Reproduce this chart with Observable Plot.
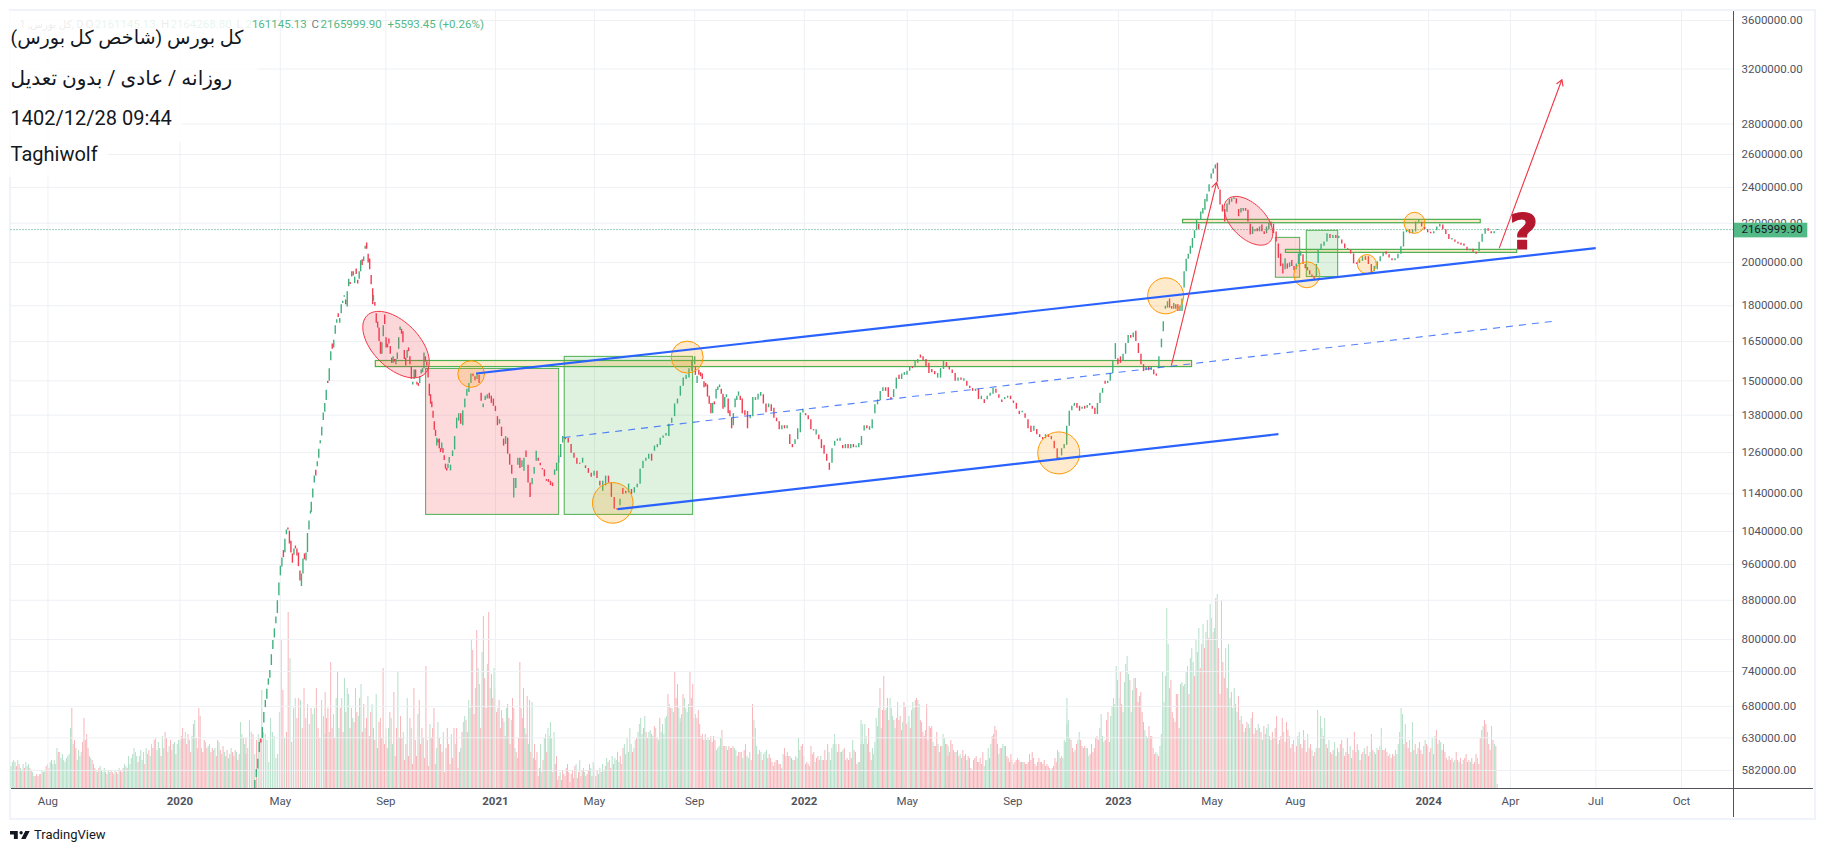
<!DOCTYPE html>
<html><head><meta charset="utf-8">
<script src="https://cdn.jsdelivr.net/npm/d3@7"></script>
<script src="https://cdn.jsdelivr.net/npm/@observablehq/plot@0.6"></script>
<style>
html,body{margin:0;padding:0;background:#fff;}
#chart{position:relative;width:1823px;height:852px;overflow:hidden;font-family:Roboto,"DejaVu Sans",sans-serif;}
#chart svg.layer{position:absolute;left:0;top:0;}
#frame{position:absolute;left:9px;top:9px;width:1803px;height:807px;border:2px solid #f0f3fa;box-sizing:content-box;}
#axisV{position:absolute;left:1733px;top:11px;width:1px;height:806px;background:#50535e;z-index:3;}
#axisH{position:absolute;left:11px;top:788px;width:1802px;height:1px;background:#50535e;z-index:3;}
#brand{position:absolute;left:10px;top:827px;display:flex;align-items:center;gap:4px;font-size:13px;color:#131722;}
</style></head><body>
<div id="chart"><div id="frame"></div><div id="axisV"></div><div id="axisH"></div>
<div id="brand"><svg width="20" height="10" viewBox="0 6 36 14"><path d="M14 6H0v6h7v8h7V6Z M28 20h-8l7.5-14h8L28 20Z" fill="#131722"/><circle cx="20" cy="9" r="3" fill="#131722"/></svg><span>TradingView</span></div>
</div>
<script>
// Price candles, [open, close] in thousands, one list per stretch of the chart
const rallyA=[[556,568],[572,583],[584,598],[608,623],[628,622],[629,646],[653,670],[678,690],[692,709],[716,727],[728,742],[751,771],[781,798],[803,821],[831,845],[852,879],[890,918],[934,956],[954,975],[993,976],[988,1021],[1032,1044],[1049,1044],[1041,1009],[1016,987],[985,963],[982,997],[1004,997],[997,980],[987,955],[945,922],[910,938],[938,973],[985,971],[968,987],[988,1035],[1044,1067],[1085,1093]];
const rallyB=[[1090,1117],[1128,1153],[1170,1190],[1207,1190],[1217,1232],[1243,1270],[1287,1297],[1312,1340],[1362,1387],[1390,1420],[1430,1466],[1498,1490],[1498,1545],[1575,1610],[1640,1620],[1625,1655],[1680,1715],[1725,1740],[1765,1750],[1725,1745],[1765,1805],[1810,1820],[1838,1845],[1825,1805],[1795,1863],[1885,1920],[1905,1896],[1930,1955],[1955,1935],[1900,1930],[1968,1942],[1915,1898],[1920,1955],[1955,2008],[2013,1985],[2005,2027],[2065,2080],[2097,2065],[2040,1997],[2017,1965],[1938,1895],[1876,1805]];
const fallA=[[1820,1845],[1815,1798],[1765,1725],[1730,1705],[1705,1650],[1648,1600],[1600,1645],[1670,1715],[1760,1720],[1665,1625],[1640,1625],[1660,1640],[1630,1600],[1585,1565],[1565,1590],[1580,1570],[1560,1580],[1580,1605],[1620,1665],[1695,1710],[1700,1680],[1690,1645],[1615,1580],[1585,1555],[1585,1615],[1625,1610],[1590,1560],[1550,1505],[1485,1495],[1505,1540],[1540,1510],[1495,1485],[1490,1480],[1490,1515],[1525,1540],[1530,1545],[1545,1605],[1590,1570],[1570,1555]];
const fallB=[[1545,1510],[1488,1445],[1450,1417],[1425,1405],[1393,1370],[1358,1330],[1330,1310],[1280,1305],[1300,1290],[1302,1272],[1272,1260],[1268,1290],[1272,1258],[1250,1236],[1225,1210],[1212,1205],[1212,1225],[1228,1245]];
const pinkBox=[[1205,1222],[1248,1265],[1268,1310],[1335,1370],[1360,1385],[1385,1350],[1345,1395],[1405,1435],[1445,1470],[1458,1490],[1490,1525],[1525,1515],[1515,1500],[1505,1525],[1520,1490],[1455,1427],[1405,1418],[1430,1445],[1435,1450],[1455,1435],[1445,1420],[1435,1410],[1410,1392],[1375,1345],[1350,1365],[1340,1310],[1302,1280],[1285,1310],[1305,1255],[1255,1222],[1222,1195],[1128,1183],[1155,1183],[1222,1243],[1243,1212],[1215,1235],[1204,1243],[1265,1245],[1222,1170],[1170,1130],[1165,1183],[1195,1215],[1234,1264],[1243,1234],[1228,1220],[1212,1208],[1208,1188],[1180,1175],[1180,1172],[1175,1163],[1170,1160],[1192,1208],[1204,1228],[1228,1250],[1245,1285],[1290,1310]];
const greenBox=[[1305,1300],[1305,1290],[1285,1258],[1258,1243],[1243,1225],[1228,1225],[1228,1243],[1220,1212],[1212,1198],[1198,1187],[1190,1204],[1204,1183],[1175,1162],[1147,1175],[1162,1190],[1190,1170],[1170,1130],[1130,1098],[1100,1095],[1107,1125],[1155,1138],[1147,1140],[1142,1167],[1152,1138],[1142,1157],[1157,1167],[1167,1210],[1212,1234],[1234,1243],[1240,1255],[1255,1234],[1264,1280],[1275,1285],[1283,1305],[1305,1312],[1312,1320],[1310,1350],[1353,1370],[1375,1418],[1418,1435],[1445,1480],[1480,1510],[1505,1520],[1510,1545],[1535,1572],[1560,1590]];
const late2021=[[1552,1520],[1490,1517],[1540,1520],[1530,1515],[1525,1505],[1497,1475],[1490,1478],[1485,1442],[1445,1417],[1420,1385],[1385,1420],[1425,1415],[1435,1470],[1465,1478],[1475,1485],[1470,1452],[1452,1400],[1405,1440],[1440,1450],[1435,1385],[1395,1375],[1370,1335],[1345,1385],[1405,1435],[1430,1445],[1445,1460],[1445,1430]];
const early2022=[[1435,1385],[1395,1378],[1392,1335],[1368,1380],[1375,1440],[1430,1440],[1432,1452],[1445,1458],[1450,1418],[1418,1388],[1405,1418],[1415,1392],[1403,1370],[1370,1358],[1358,1332],[1332,1345],[1345,1335],[1335,1345],[1316,1285],[1285,1275],[1285,1300],[1300,1335],[1322,1387],[1387,1400],[1385,1378],[1378,1365],[1365,1332],[1332,1328],[1315,1332],[1315,1300],[1300,1272],[1282,1255],[1255,1234],[1228,1207]];
const spring2022=[[1228,1272],[1280,1295],[1295,1302],[1295,1305],[1282,1272],[1272,1285],[1285,1272],[1272,1285],[1285,1275],[1275,1280],[1275,1288],[1282,1310],[1328,1345],[1345,1335],[1330,1342],[1335,1365],[1385,1415],[1415,1432],[1430,1462],[1462,1475],[1475,1462],[1475,1440],[1440,1432],[1440,1468],[1470,1510],[1520,1505],[1505,1525],[1520,1530],[1520,1535],[1535,1552],[1552,1545],[1548,1572],[1565,1580],[1597,1585]];
const slide2022=[[1590,1575],[1580,1552],[1565,1527],[1542,1530],[1534,1522],[1510,1527],[1510,1545],[1542,1572],[1568,1552],[1552,1540],[1540,1527],[1527,1498],[1498,1510],[1510,1502],[1498,1508],[1498,1480],[1480,1472],[1472,1462],[1462,1470],[1470,1433],[1433,1445],[1433,1420],[1433,1445],[1445,1455],[1452,1472],[1470,1455],[1450,1438],[1432,1423],[1433,1440],[1438,1445],[1445,1433],[1428,1420],[1420,1400],[1393,1382],[1388,1393],[1385,1370],[1365,1335],[1343,1323],[1327,1343],[1333,1316],[1316,1307],[1307,1300],[1303,1316],[1315,1307],[1310,1300],[1295,1272],[1272,1238]];
const winter2023=[[1238,1245],[1250,1272],[1272,1285],[1283,1343],[1343,1393],[1395,1410],[1410,1420],[1420,1403],[1410,1393],[1400,1407],[1410,1400],[1403,1413],[1412,1420],[1410,1400],[1403,1382],[1382,1420],[1420,1455],[1455,1472],[1498,1488],[1490,1498],[1498,1527],[1527,1572],[1580,1642],[1583,1560],[1590,1565],[1572,1600],[1600,1642],[1642,1675],[1675,1663],[1665,1685],[1692,1650],[1642,1603],[1600,1560],[1560,1534],[1537,1552],[1552,1537],[1538,1552],[1540,1522],[1525,1517],[1545,1590],[1625,1660]];
const peak2023=[[1690,1732],[1785,1798],[1790,1818],[1830,1790],[1797,1785],[1785,1810],[1805,1785],[1805,1775],[1775,1798],[1775,1830],[1880,1955],[1955,2015],[2015,2040],[2040,2080],[2070,2120],[2120,2160],[2160,2215],[2195,2165],[2215,2261],[2250,2280],[2270,2330],[2316,2360],[2373,2415],[2450,2480],[2480,2510],[2510,2535],[2545,2430]];
const redOval2023=[[2385,2300],[2300,2261],[2275,2207],[2260,2305],[2300,2330],[2315,2335],[2330,2340],[2335,2305],[2275,2235],[2255,2280],[2265,2280],[2280,2265],[2270,2207],[2195,2138],[2140,2180],[2155,2165],[2170,2155],[2155,2180],[2190,2155],[2155,2140],[2145,2180],[2165,2200],[2185,2207],[2195,2145]];
const summer2023=[[2154,2102],[2092,2020],[2042,1980],[1993,1945],[1965,2018],[1993,1968],[1975,1998],[2010,1980],[1980,1960],[1965,1993],[1990,2042],[2030,2052],[2038,1990],[1990,1970],[1975,1960],[1960,1940],[1940,1930],[1930,1915],[1930,1990]];
const autumn2023=[[1995,2060],[2060,2090],[2080,2102],[2102,2145],[2140,2120],[2120,2135],[2135,2120],[2120,2132],[2112,2092],[2092,2068],[2068,2060],[2060,2042],[2042,1993],[1998,1990],[1995,2012],[2005,2028],[2028,2010],[2028,1990],[1990,1950],[1955,1980],[1965,2003],[2003,2028],[2028,2047],[2052,2038],[2038,2022],[2018,2008],[2008,2018],[2018,2040],[2040,2078]];
const lastRun=[[2077,2154],[2150,2165],[2165,2145],[2145,2165],[2154,2207],[2205,2215],[2205,2180],[2180,2165],[2165,2150],[2152,2145],[2145,2155],[2160,2180],[2180,2195],[2190,2165],[2165,2140],[2140,2115],[2112,2120],[2112,2100],[2100,2092],[2095,2085],[2092,2080],[2075,2057],[2057,2065],[2065,2050],[2050,2040],[2052,2100],[2100,2142],[2142,2170],[2170,2158],[2155,2145],[2145,2155],[2161,2166]];

// Volume (arbitrary units); negative means a down day
const volA=[11,13,14,13,-11,14,-12,10,-9,12,-10,13,11,12,-10,-9,8,-6,6,-7,-6,7,-7,9,-8,9,-11,-12,-10,13,-14,12,14,12,20,-18,18,15,17,14,13,15,16,17,30,-40,22,-24,-20,14,19,16,18,-23,-35,-24,-27,-20,-16,15,-14,-12,-10,9,8,-10,11,-9,8,10,-8,-7,9,8,-9,-8,7,9,-8,7,10,-9,-8,-10,12,11,-10,16,12,15,17,20,18,16,-13,16,19,14,18,-12,20,17,-19,16,22,-20,-24,25,19,23,-20,-16,26,20,-28,-25,18,21,-24,19,-22,23,-17,22,24,-20];
const volB=[24,-26,-30,-25,28,-22,-27,24,-18,26,-32,34,-25,20,-40,-36,20,-18,-24,23,-20,21,22,-18,-20,19,20,-16,-24,23,-19,17,-21,18,-16,-19,15,-17,20,-18,-16,-19,18,-14,-17,33,27,-25,22,-25];
const volC=[-17,20,34,28,-27,17,-24,27,-25,49,28,27,24,13,35,28,26,15,17,38,-74,-49,25,-28,-88,65,-23,40,45,-35,-45,44,-30,-50,-35,42,32,-40,37,40,-50,-30,25,44,36,27];
const volD=[-48,-35,-40,28,-63,-30,37,-25,45,-58,30,-40,45,-28,55,-38,50,47,-30,-40,35,-33,50,-38,36,-45,52,-28,-42,30,-35,46,-26,-38,42,-30,-24,47,-20,-33,-35,-25,-60,-22,-30];
const volE=[-24,-20,30,-38,35,22,-48,-16,-30,58,25,-36,-25,28,-14,-22,45,-16,-35,30,-12,-50,-24,-16,37,-44,-22,-30,25,-15,-61,-24,-11,32,-25,-30,-40,-12,20,33,-25,-22,-18,28,-8,-20,-30,-22,-12,27,-15,-30,22,-30,-10,-18,20,-28,33,36,-34,-28,44,40,74,-69,-37,50,-79,60,52,-30,68,-86,-55,-40,62,-88,50,-57,-45,60,-50];
const volF=[-45,-38,40,-44,-30,39,-35,33,-26,40,-42,-35,-22,34,-45,-40,20,-18,15,-25,-63,-40,-35,-50,30,-27,-46,22,-44,-18,43,-15,-22,-14,-18,-6,-10,22,-8,-14,25,27,-18,30,26,33,25,-8,28,-12,-16,-4,-6,8,-4,-9,-7,-6,-10,-12,-8,-3,-7,-9,-5,-11,12,-5,-8,14,-6,-9,-10,8,-6,-7,-9,-12,10,-6,13,-11];
const volG=[8,-6,-9,7,10,-8,12,9,-11,15,-13,14,-10,16,-12,15,14,-18,13,-16,12,-20,22,-17,25,18,30,22,-18,20,24,-25,28,32,35,27,-30,36,-28,25,28,29,-27,26,-31,30,-25,24,-35,28,32,27,35,36,-47,42,-40,40,38,-58,-45,-52,40,35];
const volH=[33,37,-47,45,40,38,42,-58,-45,-52,35,37,-35,-39,-32,-26,-27,-24,-27,24,25,-24,-26,-23,-26,-24,19,20,21,25,-29,21,-21,21,-19,-21,-20,-20,-21,20,19,-16,-18,-18,18,15,-19,-22,16,15,18,-14,-42,34,30,21,-17,19,18,-14,17,18,19,-15,-17,-15,-13,-11,-13,-14,-14,-12,-12,10,17,-20,-16,-18,-16,16,-15,14,-14,16,15,25,19,-21,-22,16,-12,-13,-12,11,-21,-17,-18,13,-15,-16,-14,16,-14,-14,-19,-14,-22,18,14,20,22,27,22,-18,-22,18,-18,19,-20,-14,-15,-14,-18,-15,24,-19,-18,-12,13,13,-22];
const volI=[34,32,-22,32,26,-22,-30,-18,-14,20,17,23,35,31,40,-50,30,-39,-56,-39,40,-45,-34,45,40,36,-34,30,-35,43,-34,-36,-29,33,-43,-41,-32,33,36,-30,39,43,40,-44,-45,44,42,-34,-33,-28,-26,-29,-42,24,-31,-30,-31,23,-21,21,-28,22,-18,-21,21,27,25,-22,-22,21];
const volJ=[-16,18,-24,-22,19,-18,18,-19,-16,17,15,-19,-16,-17,14,-16,-15,-10,-9,-14,-15,-16,-13,-13,-15,12,-18,11,14,14,20,-15,22,-26,-27,-31,-29,-22,17,-20,20,22,21,-21,-16,-15,-13,-17,-14,-12,-13,-14,-15,-14,-13,-13,13,-13,-12,-12,-13,-17,-14,-18,-15,-12,-11,-13,-15,-13,-13,-12,-14,-11,-12,-11,-10,9,-10,-11,-15,-13,-19,18,-15,16,15,24,23,32];
const volK=[45,34,25,-24,-20,-18,19,-22,24,28,-24,-21,-20,-21,20,20,16,-17,-22,-18,-20,-25,-26,-24,30,37,26,23,-24,-34,-38,-23,36,41,45,42,61,-54,45,-58,-42,38,53,62,66,57,-54,38,49,55,-55,-50,-43,-46,-48,-38,-33,29,26,25,-31,-26,-26,-20,-17,18,17,-16,21,27,58,43,56,90,72,50,-54,-38,35,-33,-47,-47,-30,29];
const volL=[52,53,-51,52,58,61,-47,65,70,63,-56,74,68,80,-60,72,82,-70,78,84,-75,92,-85,-78,80,-95,97,-70,-47,94,-63,-55,70,-50,72,45,-48,40,50,-42,38,-46,-34,36,-32,28,-30,-33,32,-30,35,-38,-27,30,-29,32,30,-28,24,-31,-27,30,32,-26,24,-28,25,-30,-36,22,-24,-26,-35,28,-23,-33,-29,26,-20,-22,24,-18,-21,26,28,-22,-20,29,-24,-18,27,-20,-22,19,-16,-18,20,39,-20,36,30,-26,35,-22,-20,24,-18,-17,-19,23,-16,-20,18,-22,-24,20,-16,-18,-25,-17,21,-15,-19,-28,-18,-22,19,-14,17,-18,20,-17,-21,-16,18,-27,-19,18,-17,20,-19,21,30,-19,-19,20,-18,-16,17,-15,-17,-16,19,17,22,28,40,37,-22,32,-23,-20,24,-18,33,-19,-22,17,-20,-23,-19,-17,21,24,-22,-21,-18,-20,25,-17,26,-29,22,-24,23,-19,-22,-18,-15,14,-16,-14,-15,13,14,-18,-14,13,-15,12,14,-15,-17,-13,-14,13,-15,-12,-13,-17,15,-12,-25,29,31,-34,-32,28,-22,-19,31,-24,22,-21,2];

// Axes
const priceTicks=[3600,3200,2800,2600,2400,2200,2000,1800,1650,1500,1380,1260,1140,1040,960,880,800,740,680,630,582];
const monthLabels=["Aug","May","Sep","May","Sep","May","Sep","May","Aug","Apr","Jul","Oct"];
const monthBars=[28,204,284,442,518,679,759,910,973,1136,1200.7,1265.6];
const yearLabels=["2020","2021","2022","2023","2024"];
const yearBars=[128,367,601,839,1074];

// Where each stretch sits on the bar axis
const candleRuns=[[184.7,226.9,rallyA],[227.5,274,rallyB],[274.6,315,fallA],[316,332,fallB],[333,418,pinkBox],[420,518,greenBox],[518.5,552.5,late2021],[554,620,early2022],[622,689,spring2022],[691,792.6,slide2022],[794,871.6,winter2023],[873,914,peak2023],[916,956.5,redOval2023],[958.5,989,summer2023],[990.3,1053,autumn2023],[1055,1126,lastRun]];
const volumeRuns=[[0,128,volA],[128,178,volB],[178,238,volC],[238,284,volD],[284,367,volE],[367,442,volF],[442,507,volG],[507,644,volH],[644,710,volI],[710,800,volJ],[800,886,volK],[886,1126,volL]];

// Drawings on the chart, in bar / thousand units
const blueLines=[[352.4,1527,1200.6,2071],[459.7,1098,960.2,1318]];
const dashedLine=[[418.6,1307,1167.8,1733]];
const redArrows=[[879.2,1559,913.4,2430],[1127.6,2072,1175,3119]];
const boxes=[[314.5,415.3,1083,1544,"#f23645"],[419.5,516.8,1083,1590,"#4caf50"],[958.3,976.7,1927,2123,"#f23645"],[981.7,1005.5,1930,2160,"#4caf50"]];
const bands=[[276.4,894.8,1551,1574],[888,1113.5,2200,2218],[965.9,1141.1,2047,2062]];
const circles=[[348.6,1525,13.3],[455.9,1115,20.3],[512.3,1589,16],[793.8,1259,21],[874.8,1844,18],[981.7,1941,13],[1027.2,1992,9.5],[1063.3,2202,10.5]];
const ovals=[[291.7,1638,41,23],[937.5,2213,30,17]];
const lastPrice=2166;

const G="#3fb07c",R="#ef3d52",ORANGE="#ff9800",AXISTXT="#50535e";
const place=(runs,fn)=>runs.flatMap(([a,b,arr])=>arr.map((d,i)=>fn(d,a+(b-a)*i/(arr.length-1))));
const candles=place(candleRuns,([o,c],bar)=>({bar,open:o,close:c}));
const volumes=place(volumeRuns,(v,bar)=>({bar,v:Math.abs(v),up:v>0}));

const ovalSymbol=(a,b)=>({draw(ctx){
  const t=Math.PI/4;
  for(let i=0;i<=72;i++){
    const u=i/72*2*Math.PI,ex=a*Math.cos(u),ey=b*Math.sin(u);
    const px=ex*Math.cos(t)-ey*Math.sin(t),py=ex*Math.sin(t)+ey*Math.cos(t);
    i?ctx.lineTo(px,py):ctx.moveTo(px,py);
  }
  ctx.closePath();
}});

const common={width:1823,height:852,marginLeft:10.5,marginRight:90,marginTop:11,marginBottom:64,
  x:{type:"linear",domain:[0,1305],axis:null}};

const volPlot=Plot.plot({...common,className:"vol",style:{background:"transparent",position:"absolute",left:"0",top:"0"},
  y:{type:"linear",domain:[0,388.5],axis:null},
  marks:[
    Plot.ruleX(volumes,{x:"bar",y1:0,y2:"v",stroke:d=>d.up?"#b4e0c9":"#f8b4b9",strokeWidth:1})
  ]});

const LEGY=3565;
const legendLetters=[["O",56.4],["H",113.6],["L",170.9],["C",227.6]];
const legendVals=[["2161145.13",63.3],["2164268.80",120.8],["2161145.13",177.6],["2165999.90",234.5],["+5593.45 (+0.26%)",285.2]];
const titles=[["\u200Fکل بورس (شاخص کل بورس)\u200F",3454,19.2],["\u200Fروزانه / عادی / بدون تعدیل\u200F",3130,20],["1402/12/28 09:44",2837,20],["Taghiwolf",2600,20]];
const whiteBoxes=[[183,3680,3267],[187,3267,2893],[130,2893,2677],[74,2677,2458]];
const gridC="#eef0f4";

const pricePlot=Plot.plot({...common,style:{background:"transparent",position:"absolute",left:"0",top:"0",fontFamily:"Roboto, 'DejaVu Sans', sans-serif",overflow:"visible"},
  y:{type:"log",domain:[557,3680],axis:null},
  r:{type:"identity"},
  marks:[
    Plot.ruleY(priceTicks,{stroke:gridC,strokeWidth:1}),
    Plot.ruleX([...monthBars,...yearBars],{stroke:gridC,strokeWidth:1}),
    Plot.ruleY([lastPrice],{stroke:"#3a9f75",strokeWidth:1,strokeDasharray:"1 2"}),
    // legend line
    Plot.text(["کل بورس, 1, D"],{x:6.4,y:LEGY,textAnchor:"start",fontSize:10.5,fill:"#787b86"}),
    Plot.text(legendLetters,{x:d=>d[1],y:LEGY,text:d=>d[0],textAnchor:"start",fontSize:11.5,fill:"#787b86"}),
    Plot.text(legendVals,{x:d=>d[1],y:LEGY,text:d=>d[0],textAnchor:"start",fontSize:11.5,fill:"#53b987"}),
    Plot.rect(whiteBoxes,{x1:-1,x2:d=>d[0],y1:d=>d[1],y2:d=>d[2],fill:"#fff",fillOpacity:0.86}),
    // boxes and bands
    Plot.rect(boxes,{x1:d=>d[0],x2:d=>d[1],y1:d=>d[2],y2:d=>d[3],fill:d=>d[4],fillOpacity:0.18,stroke:"#4caf50",strokeWidth:1}),
    Plot.rect(bands,{x1:d=>d[0],x2:d=>d[1],y1:d=>d[2],y2:d=>d[3],fill:ORANGE,fillOpacity:0.2,stroke:"#4caf50",strokeWidth:1.2}),
    // candles
    Plot.ruleX(candles,{x:"bar",y1:"open",y2:"close",stroke:d=>d.close>=d.open?G:R,strokeWidth:1.4,clip:true}),
    // ovals and circles
    ...ovals.map(([x,y,a,b])=>Plot.dot([{x,y}],{x:"x",y:"y",r:1,symbol:ovalSymbol(a,b),fill:"#f23645",fillOpacity:0.2,stroke:"#f23645",strokeWidth:1})),
    Plot.dot(circles,{x:d=>d[0],y:d=>d[1],r:d=>d[2],fill:ORANGE,fillOpacity:0.2,stroke:ORANGE,strokeWidth:1}),
    // lines
    Plot.link(dashedLine,{x1:d=>d[0],y1:d=>d[1],x2:d=>d[2],y2:d=>d[3],stroke:"#2962ff",strokeOpacity:0.8,strokeWidth:1.1,strokeDasharray:"7 6"}),
    Plot.link(blueLines,{x1:d=>d[0],y1:d=>d[1],x2:d=>d[2],y2:d=>d[3],stroke:"#2962ff",strokeWidth:2.2}),
    Plot.arrow(redArrows,{x1:d=>d[0],y1:d=>d[1],x2:d=>d[2],y2:d=>d[3],stroke:"#f23645",strokeWidth:1.1,headLength:9,bend:0}),
    Plot.text(["?"],{x:1146,y:2150,fontSize:50,fontWeight:"bold",fontFamily:"DejaVu Sans",fill:"#b5172f",stroke:"#b5172f",strokeWidth:1.2}),
    // title block
    Plot.text(titles,{x:-0.3,y:d=>d[1],text:d=>d[0],textAnchor:"start",fontSize:d=>d[2],fill:"#131722",fontFamily:"Roboto, 'DejaVu Sans', sans-serif"}),
    // axes
    Plot.axisY(priceTicks,{anchor:"right",tickSize:0,tickPadding:8,label:null,tickFormat:d=>(d*1000).toFixed(2),fill:AXISTXT,fontSize:11.5}),
    Plot.axisX(monthBars,{anchor:"bottom",tickSize:0,tickPadding:8,label:null,tickFormat:d=>monthLabels[monthBars.indexOf(d)],fill:AXISTXT,fontSize:11.5}),
    Plot.axisX(yearBars,{anchor:"bottom",tickSize:0,tickPadding:8,label:null,tickFormat:d=>yearLabels[yearBars.indexOf(d)],fill:AXISTXT,fontSize:11.5,fontWeight:"bold"}),
    // last-price tag
    Plot.rect([lastPrice],{x1:1305,x2:1361.3,y1:2123,y2:2200,fill:"#53b987"}),
    Plot.text(["2165999.90"],{x:1311,y:lastPrice,textAnchor:"start",fontSize:11.5,fill:"#131722"})
  ]});

volPlot.classList.add("layer");pricePlot.classList.add("layer");
const host=document.getElementById("chart");
host.insertBefore(volPlot,host.children[1]);
host.insertBefore(pricePlot,volPlot.nextSibling);
</script>
</body></html>
